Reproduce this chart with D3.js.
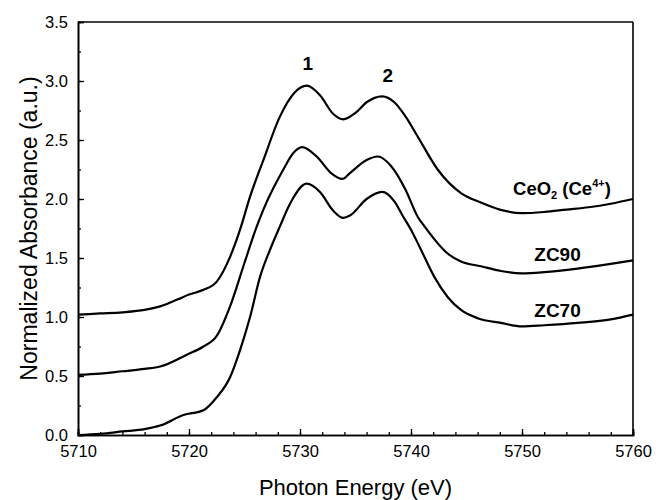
<!DOCTYPE html>
<html>
<head>
<meta charset="utf-8">
<script src="https://cdnjs.cloudflare.com/ajax/libs/d3/7.8.5/d3.min.js"></script>
<style>
  body { margin: 0; background: #fff; }
  svg { font-family: "Liberation Sans", Arial, sans-serif; }
</style>
</head>
<body>
<div id="chart"></div>
<script>
	///////////////////////////////////////////////////////////////////////////
	///////////////////////////////// Data ////////////////////////////////////
	///////////////////////////////////////////////////////////////////////////

	//Photon energy (eV) and normalized absorbance
	var ceo2Energy = [5710, 5712, 5714, 5716, 5717.4, 5719, 5720, 5721.3, 5722.5, 5723.7, 5724.6, 5725.5, 5726.7,
		5728.2, 5729.5, 5730.6, 5731.8, 5733, 5733.9, 5735, 5736, 5737.4, 5738.5, 5739.5, 5740.6, 5742.4,
		5744.5, 5746.3, 5748, 5750, 5752, 5754, 5756, 5758, 5760];
	var ceo2Abs = [1.02, 1.03, 1.04, 1.06, 1.09, 1.15, 1.19, 1.23, 1.30, 1.51, 1.74, 2.02, 2.33,
		2.70, 2.90, 2.96, 2.88, 2.72, 2.675, 2.73, 2.82, 2.87, 2.82, 2.70, 2.53, 2.25,
		2.05, 1.97, 1.91, 1.88, 1.89, 1.91, 1.93, 1.96, 2.00];

	var zc90Energy = [5710, 5712, 5714, 5716, 5717.4, 5719.8, 5721.3, 5722.5, 5723.7, 5724.9, 5726, 5726.7,
		5728.5, 5729.4, 5730.2, 5731.5, 5732.8, 5733.8, 5734.5, 5736, 5737, 5738.2, 5739.5, 5740.6, 5741.2,
		5743.4, 5744.5, 5746.3, 5748.1, 5750, 5752, 5755, 5758, 5760];
	var zc90Abs = [0.51, 0.52, 0.54, 0.56, 0.58, 0.68, 0.75, 0.84, 1.09, 1.43, 1.74, 1.91,
		2.25, 2.39, 2.44, 2.36, 2.22, 2.17, 2.22, 2.33, 2.36, 2.28, 2.08, 1.85, 1.77,
		1.53, 1.47, 1.43, 1.39, 1.37, 1.38, 1.41, 1.45, 1.48];

	var zc70Energy = [5710, 5712, 5714, 5716, 5717.4, 5719.5, 5721.3, 5722.5, 5723.7, 5724.6, 5725.5, 5726.4,
		5727.3, 5728.2, 5729.1, 5730.6, 5731.8, 5733, 5733.9, 5734.5, 5736, 5737.4, 5738.5, 5739.3, 5740,
		5740.9, 5742.1, 5743.3, 5744.5, 5746, 5748.1, 5750, 5752, 5755, 5758, 5760];
	var zc70Abs = [0.00, 0.01, 0.03, 0.05, 0.08, 0.17, 0.21, 0.32, 0.49, 0.72, 1.00, 1.34,
		1.57, 1.77, 1.96, 2.13, 2.06, 1.90, 1.84, 1.86, 2.00, 2.06, 1.98, 1.85, 1.74,
		1.57, 1.34, 1.17, 1.06, 0.99, 0.95, 0.92, 0.93, 0.95, 0.98, 1.02];

	var xMajorTicks = [5710, 5720, 5730, 5740, 5750, 5760];
	var yMajorTicks = [0, 0.5, 1, 1.5, 2, 2.5, 3, 3.5];

	///////////////////////////////////////////////////////////////////////////
	//////////////////////////////// Setup ////////////////////////////////////
	///////////////////////////////////////////////////////////////////////////

	var margin = {left: 78, top: 22, right: 23, bottom: 65},
		width = 656 - margin.left - margin.right,
		height = 500 - margin.top - margin.bottom;

	var svg = d3.select("#chart").append("svg")
		.attr("width", width + margin.left + margin.right)
		.attr("height", height + margin.top + margin.bottom);

	var g = svg.append("g")
		.attr("transform", "translate(" + margin.left + "," + margin.top + ")");

	var x = d3.scaleLinear().domain([5710, 5760]).range([0, width]);
	var y = d3.scaleLinear().domain([0, 3.5]).range([height, 0]);

	//////////////////////////////////////////////////////
	/////////////////////// Axes /////////////////////////
	//////////////////////////////////////////////////////

	//Minor ticks first, pointing inwards
	g.append("g")
		.attr("class", "x minor")
		.attr("transform", "translate(0," + height + ")")
		.call(d3.axisBottom(x).tickValues(d3.range(5710, 5761, 2)).tickSize(-3).tickFormat(""));
	g.append("g")
		.attr("class", "y minor")
		.call(d3.axisLeft(y).tickValues(d3.range(0, 3.51, 0.25)).tickSize(-3).tickFormat(""));

	g.append("g")
		.attr("class", "x axis")
		.attr("transform", "translate(0," + height + ")")
		.call(d3.axisBottom(x).tickValues(xMajorTicks).tickSize(-6).tickPadding(10).tickFormat(d3.format("d")));
	g.append("g")
		.attr("class", "y axis")
		.call(d3.axisLeft(y).tickValues(yMajorTicks).tickSize(-6).tickPadding(10).tickFormat(d3.format(".1f")));

	g.selectAll(".axis text")
		.style("font-family", "'Liberation Sans', Arial, sans-serif")
		.style("font-size", "16.5px")
		.attr("fill", "#000");
	g.selectAll(".axis line, .minor line").attr("stroke", "#000").attr("stroke-width", 1.3);
	g.selectAll(".domain").attr("stroke", "#000").attr("stroke-width", 1.6);

	//Frame on top and right
	g.append("line")
		.attr("x1", 0).attr("x2", width).attr("y1", 0).attr("y2", 0)
		.attr("stroke", "#000").attr("stroke-width", 1.6);
	g.append("line")
		.attr("x1", width).attr("x2", width).attr("y1", 0).attr("y2", height)
		.attr("stroke", "#000").attr("stroke-width", 1.6);

	//Axis titles
	svg.append("text")
		.attr("x", margin.left + width / 2)
		.attr("y", 495)
		.style("text-anchor", "middle")
		.style("font-size", "22px")
		.attr("fill", "#000")
		.text("Photon Energy (eV)");
	svg.append("text")
		.attr("transform", "translate(37," + (margin.top + height / 2) + ") rotate(-90)")
		.style("text-anchor", "middle")
		.style("font-size", "23px")
		.attr("fill", "#000")
		.text("Normalized Absorbance (a.u.)");

	//////////////////////////////////////////////////////
	////////////////////// Spectra ///////////////////////
	//////////////////////////////////////////////////////

	var line = d3.line()
		.x(function(d) { return x(d[0]); })
		.y(function(d) { return y(d[1]); })
		.curve(d3.curveMonotoneX);

	[[ceo2Energy, ceo2Abs], [zc90Energy, zc90Abs], [zc70Energy, zc70Abs]].forEach(function(s) {
		g.append("path")
			.datum(d3.zip(s[0], s[1]))
			.attr("fill", "none")
			.attr("stroke", "#000")
			.attr("stroke-width", 2.2)
			.attr("d", line);
	});

	//////////////////////////////////////////////////////
	////////////////////// Labels ////////////////////////
	//////////////////////////////////////////////////////

	//Peak numbers
	g.append("text")
		.attr("x", x(5730.7)).attr("y", y(3.09))
		.style("text-anchor", "middle").style("font-size", "19px").style("font-weight", "bold")
		.text("1");
	g.append("text")
		.attr("x", x(5737.9)).attr("y", y(2.99))
		.style("text-anchor", "middle").style("font-size", "19px").style("font-weight", "bold")
		.text("2");

	//Sample names
	var ceLabel = g.append("text")
		.attr("x", x(5753.6)).attr("y", y(2.03))
		.style("text-anchor", "middle").style("font-size", "18.5px").style("font-weight", "bold");
	ceLabel.append("tspan").text("CeO");
	ceLabel.append("tspan").attr("dy", 4).style("font-size", "11px").text("2");
	ceLabel.append("tspan").attr("dy", -4).text(" (Ce");
	ceLabel.append("tspan").attr("dy", -8).style("font-size", "11px").text("4+");
	ceLabel.append("tspan").attr("dy", 8).text(")");

	g.append("text")
		.attr("x", x(5753.2)).attr("y", y(1.475))
		.style("text-anchor", "middle").style("font-size", "19px").style("font-weight", "bold")
		.text("ZC90");
	g.append("text")
		.attr("x", x(5753.2)).attr("y", y(1.0))
		.style("text-anchor", "middle").style("font-size", "19px").style("font-weight", "bold")
		.text("ZC70");
</script>
</body>
</html>
